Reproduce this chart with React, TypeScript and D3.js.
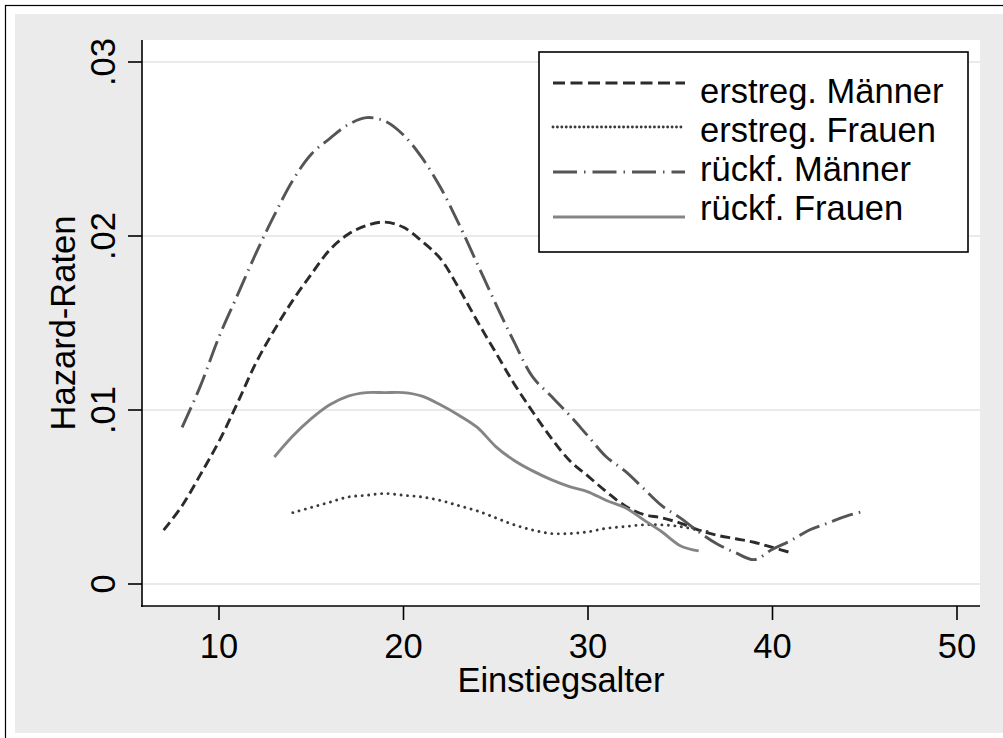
import React from "react";
import * as d3 from "d3";

const xTicks = [10, 20, 30, 40, 50];
const yTicks = [0, 0.01, 0.02, 0.03];
const yTickLabels = ["0", ".01", ".02", ".03"];

const ageEM = [7, 8, 9, 10, 11, 12, 13, 14, 15, 16, 17, 18, 19, 20, 21, 22, 23, 24, 25, 26, 27, 28, 29, 30, 31, 32, 33, 34, 35, 36, 37, 38, 39, 40, 41];
const erstregMaenner = [0.0031, 0.0045, 0.0063, 0.0082, 0.0104, 0.0127, 0.0146, 0.0163, 0.0178, 0.0192, 0.0201, 0.0206, 0.0208, 0.0205, 0.0197, 0.0187, 0.0170, 0.0151, 0.0133, 0.0115, 0.0099, 0.0084, 0.0071, 0.0062, 0.0053, 0.0045, 0.0040, 0.0038, 0.0035, 0.0031, 0.0028, 0.0026, 0.0024, 0.0021, 0.0018];

const ageEF = [14, 15, 16, 17, 18, 19, 20, 21, 22, 23, 24, 25, 26, 27, 28, 29, 30, 31, 32, 33, 34, 35, 36, 36.6];
const erstregFrauen = [0.0041, 0.0044, 0.0047, 0.0050, 0.0051, 0.0052, 0.0051, 0.0050, 0.0048, 0.0045, 0.0042, 0.0038, 0.0034, 0.0031, 0.0029, 0.0029, 0.0030, 0.0032, 0.0033, 0.0034, 0.0034, 0.0033, 0.0031, 0.0030];

const ageRM = [8, 9, 10, 11, 12, 13, 14, 15, 16, 17, 18, 19, 20, 21, 22, 23, 24, 25, 26, 27, 28, 29, 30, 31, 32, 33, 34, 35, 36, 37, 38, 39, 40, 41, 42, 43, 44, 45];
const rueckfMaenner = [0.0090, 0.0114, 0.0142, 0.0166, 0.0190, 0.0212, 0.0232, 0.0247, 0.0256, 0.0264, 0.0268, 0.0266, 0.0258, 0.0245, 0.0228, 0.0207, 0.0184, 0.0161, 0.0139, 0.0119, 0.0108, 0.0097, 0.0085, 0.0073, 0.0065, 0.0055, 0.0045, 0.0038, 0.0030, 0.0023, 0.0018, 0.0014, 0.0020, 0.0025, 0.0031, 0.0035, 0.0039, 0.0042];

const ageRF = [13, 14, 15, 16, 17, 18, 19, 20, 21, 22, 23, 24, 25, 26, 27, 28, 29, 30, 31, 32, 33, 34, 35, 36];
const rueckfFrauen = [0.0073, 0.0085, 0.0095, 0.0103, 0.0108, 0.0110, 0.0110, 0.0110, 0.0108, 0.0103, 0.0097, 0.0090, 0.0079, 0.0071, 0.0065, 0.0060, 0.0056, 0.0053, 0.0048, 0.0044, 0.0037, 0.0030, 0.0022, 0.0019];

const legendLabels = ["erstreg. Männer", "erstreg. Frauen", "rückf. Männer", "rückf. Frauen"];

const FONT = "'Liberation Sans', Arial, sans-serif";
const FS = 34.5;

export default function App() {
  const left = 142, right = 980, top = 40, bottom = 606;
  const x = d3.scaleLinear().domain([10, 50]).range([219, 957]);
  const y = d3.scaleLinear().domain([0, 0.03]).range([584, 62]);

  const series = [
    { xs: ageEM, ys: erstregMaenner, color: "#2b2b2b", dash: "10,5", width: 2.9, cap: "butt" },
    { xs: ageEF, ys: erstregFrauen, color: "#3a3a3a", dash: "0.01,6.5", width: 2.9, cap: "round" },
    { xs: ageRM, ys: rueckfMaenner, color: "#555555", dash: "22,6,1.5,6", width: 2.9, cap: "butt" },
    { xs: ageRF, ys: rueckfFrauen, color: "#858585", dash: null, width: 2.9, cap: "butt" },
  ];
  const legendDash = ["12,5.5", "0.01,4.4", "24,7,1.5,7", null];
  const legendLineY = [83, 127, 172, 217];
  const legendTextY = [103, 142, 181, 220];

  const line = d3
    .line<[number, number]>()
    .x((d) => x(d[0]))
    .y((d) => y(d[1]))
    .curve(d3.curveCatmullRom.alpha(0.5));

  return (
    <svg width={1003} height={738} style={{ position: "absolute", left: 0, top: 0, display: "block" }} fontFamily={FONT}>
      <rect x={0} y={0} width={1003} height={738} fill="#ffffff" />
      <rect x={15} y={14} width={1003} height={719} fill="#ebebeb" />
      <rect x={5.5} y={5.5} width={1010} height={740} fill="none" stroke="#000" strokeWidth={1.2} />
      <rect x={left} y={top} width={right - left} height={bottom - top} fill="#ffffff" />
      {yTicks.map((t) => (
        <line key={"g" + t} x1={left} x2={right} y1={y(t)} y2={y(t)} stroke="#eaeaea" strokeWidth={2.2} />
      ))}
      {series.map((s, i) => (
        <path
          key={"s" + i}
          d={line(s.xs.map((a, j) => [a, s.ys[j]] as [number, number])) || ""}
          fill="none"
          stroke={s.color}
          strokeWidth={s.width}
          strokeDasharray={s.dash || undefined}
          strokeLinecap={s.cap as any}
          strokeLinejoin="round"
        />
      ))}
      <line x1={left} x2={left} y1={top} y2={bottom + 1} stroke="#000" strokeWidth={1.6} />
      <line x1={left - 1} x2={right} y1={bottom} y2={bottom} stroke="#000" strokeWidth={1.6} />
      {yTicks.map((t, i) => (
        <g key={"yt" + t}>
          <line x1={left - 14} x2={left} y1={y(t)} y2={y(t)} stroke="#000" strokeWidth={1.6} />
          <text
            transform={`translate(115,${y(t)}) rotate(-90)`}
            textAnchor="middle"
            fontSize={FS}
            fill="#000"
          >
            {yTickLabels[i]}
          </text>
        </g>
      ))}
      {xTicks.map((t) => (
        <g key={"xt" + t}>
          <line x1={x(t)} x2={x(t)} y1={bottom} y2={bottom + 14} stroke="#000" strokeWidth={1.6} />
          <text x={x(t)} y={658} textAnchor="middle" fontSize={FS} fill="#000">
            {t}
          </text>
        </g>
      ))}
      <text x={(left + right) / 2} y={692} textAnchor="middle" fontSize={FS} fill="#000">
        Einstiegsalter
      </text>
      <text transform={`translate(75,${(top + bottom) / 2}) rotate(-90)`} textAnchor="middle" fontSize={FS} fill="#000">
        Hazard-Raten
      </text>
      <rect x={539} y={52} width={429} height={200} fill="#ffffff" stroke="#000" strokeWidth={1.6} />
      {legendLabels.map((lab, i) => (
        <g key={"l" + i}>
          <line
            x1={553}
            x2={685}
            y1={legendLineY[i]}
            y2={legendLineY[i]}
            stroke={series[i].color}
            strokeWidth={2.9}
            strokeDasharray={legendDash[i] || undefined}
            strokeLinecap={series[i].cap as any}
          />
          <text x={700} y={legendTextY[i]} fontSize={FS} fill="#000">
            {lab}
          </text>
        </g>
      ))}
    </svg>
  );
}
